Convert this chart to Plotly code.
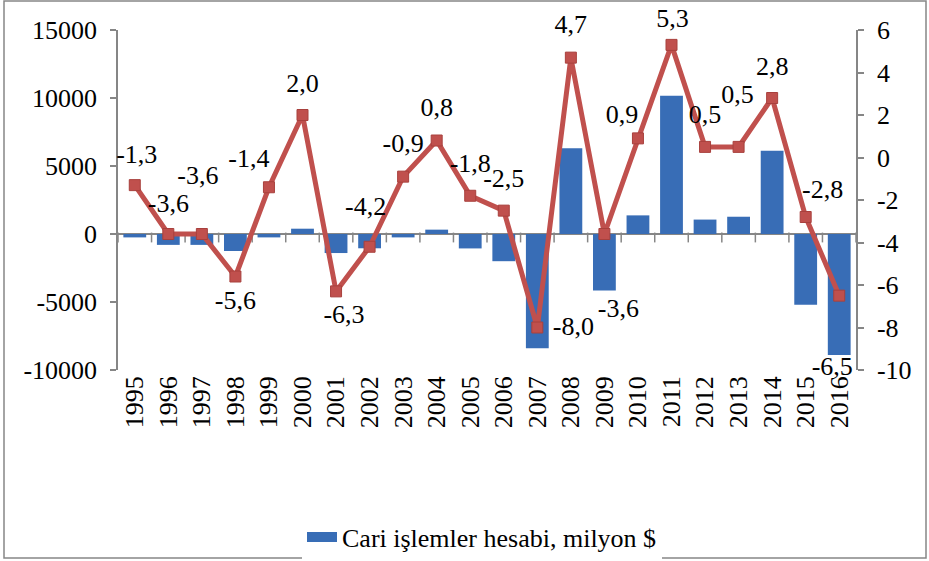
import plotly.graph_objects as go

years = [str(y) for y in range(1995, 2017)]
current_account = [-250, -800, -800, -1250, -250, 390, -1400, -1050, -250, 320, -1060, -2000,
                   -8400, 6300, -4150, 1370, 10170, 1060, 1270, 6130, -5200, -8900]
ratio = [-1.3, -3.6, -3.6, -5.6, -1.4, 2.0, -6.3, -4.2, -0.9, 0.8, -1.8, -2.5,
         -8.0, 4.7, -3.6, 0.9, 5.3, 0.5, 0.5, 2.8, -2.8, -6.5]
bar_name = "Cari işlemler hesabi, milyon $"
left_ticks = [-10000, -5000, 0, 5000, 10000, 15000]
right_ticks = [-10, -8, -6, -4, -2, 0, 2, 4, 6]

# data-label offsets (style): dx, dy in pixels (dy positive = up)
label_shift = [(2, 29), (0, 29), (-4, 57), (0, -26), (-20, 27), (0, 30), (8, -25), (-4, 38),
               (0, 31), (0, 31), (0, 30), (0, 30), (36, -1), (0, 31), (14, -76), (-16, 22),
               (1, 24), (0, 30), (-1, 50), (0, 30), (17, 26), (-7, -73)]

FONT = "Liberation Serif"
FS = 26
GRAY = "#868686"
BLUE = "#386DB6"
RED = "#C0504D"

W, H = 929, 561
L, R, B = 118, 73, 191
TOP_PLOT = 30                      # pixel top of the axes box
PW = W - L - R
PH = H - B - TOP_PLOT              # axes box height (340)
FULL = H - B                       # full plotting area incl. headroom (t=0)
DOM = PH / FULL
n = len(years)
idx = list(range(n))
PX_PER_CAT = PW / n
Y2_RANGE = [-10, 6]
Y_RANGE = [-10000, 15000]
PX_PER_Y2 = PH / (Y2_RANGE[1] - Y2_RANGE[0])
PX_PER_Y = PH / (Y_RANGE[1] - Y_RANGE[0])
Y3_RANGE = [Y2_RANGE[0], Y2_RANGE[0] + FULL / PX_PER_Y2]

fig = go.Figure()
fig.add_trace(go.Bar(x=idx, y=current_account, name=bar_name, width=0.68, showlegend=False,
                     marker=dict(color=BLUE, line=dict(width=0)), yaxis="y"))
# legend stub (wide rectangle swatch like the original)
fig.add_trace(go.Scatter(x=[None], y=[None], mode="lines", name=bar_name,
                         line=dict(color=BLUE, width=13), yaxis="y"))
# category tick marks hanging below the zero line, at category boundaries
fig.add_trace(go.Scatter(x=[i - 0.5 for i in range(n + 1)], y=[-3.5 / PX_PER_Y] * (n + 1),
                         mode="markers", yaxis="y", showlegend=False, hoverinfo="skip",
                         marker=dict(symbol="line-ns", size=7, line=dict(color=GRAY, width=1.5))))
fig.add_trace(go.Scatter(x=idx, y=ratio, yaxis="y2", mode="lines+markers", showlegend=False,
                         line=dict(color=RED, width=5),
                         marker=dict(symbol="square", size=11, color=RED,
                                     line=dict(color="#A8403D", width=1))))
fig.add_trace(go.Scatter(
    x=[i + dx / PX_PER_CAT for i, (dx, dy) in zip(idx, label_shift)],
    y=[v + dy / PX_PER_Y2 for v, (dx, dy) in zip(ratio, label_shift)],
    text=[f"{v:.1f}".replace(".", ",") for v in ratio],
    mode="text", textposition="middle center", yaxis="y3", showlegend=False,
    hoverinfo="skip", cliponaxis=False,
    textfont=dict(family=FONT, size=FS, color="black")))

axis_style = dict(showgrid=False, automargin=False, showline=True, linecolor=GRAY,
                  linewidth=1.5, ticks="outside", ticklen=6, tickcolor=GRAY, tickwidth=1.5,
                  ticklabelstandoff=8)

fig.update_layout(
    width=W, height=H,
    margin=dict(l=L, r=R, t=0, b=B, autoexpand=False),
    paper_bgcolor="white", plot_bgcolor="rgba(0,0,0,0)",
    font=dict(family=FONT, size=FS, color="black"),
    showlegend=True,
    legend=dict(orientation="h", x=(302 - L) / PW, xanchor="left",
                y=(FULL - 537) / FULL, yanchor="middle",
                font=dict(family=FONT, size=FS), itemwidth=30),
    xaxis=dict(range=[-0.5, n - 0.5], tickvals=idx, ticktext=years, tickangle=-90,
               showline=False, ticks="", showgrid=False, zeroline=False, automargin=False),
    yaxis=dict(domain=[0, DOM], range=Y_RANGE, tickvals=left_ticks,
               ticktext=[str(t) for t in left_ticks],
               zeroline=True, zerolinecolor=GRAY, zerolinewidth=1.5, **axis_style),
    yaxis2=dict(range=Y2_RANGE, tickvals=right_ticks, ticktext=[str(t) for t in right_ticks],
                overlaying="y", side="right", zeroline=False, **axis_style),
    yaxis3=dict(domain=[0, 1], range=Y3_RANGE, anchor="x", visible=False, showgrid=False,
                zeroline=False),
)
fig.add_shape(type="rect", xref="paper", yref="paper",
              x0=(4 - L) / PW, x1=(926 - L) / PW, y0=(FULL - 558) / FULL, y1=(FULL - 1) / FULL,
              line=dict(color=GRAY, width=1.5), layer="below")

fig.write_html("out.html", config={"displayModeBar": False},
               post_script="document.body.style.margin='0px';")
